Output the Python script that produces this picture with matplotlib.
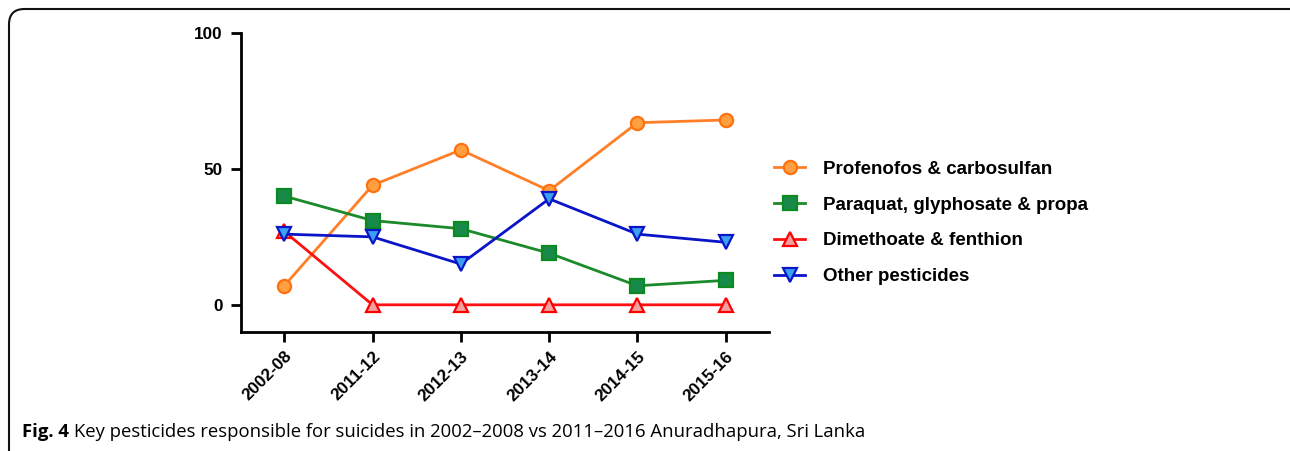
import matplotlib
matplotlib.use("Agg")
import matplotlib.pyplot as plt
from matplotlib.patches import FancyBboxPatch

periods = ["2002-08", "2011-12", "2012-13", "2013-14", "2014-15", "2015-16"]
profenofos = [7, 44, 57, 42, 67, 68]
paraquat = [40, 31, 28, 19, 7, 9]
dimethoate = [27, 0, 0, 0, 0, 0]
other = [26, 25, 15, 39, 26, 23]

series_labels = [
    "Profenofos & carbosulfan",
    "Paraquat, glyphosate & propa",
    "Dimethoate & fenthion",
    "Other pesticides",
]

W, H = 1290, 451
plt.rcParams["font.family"] = ["Liberation Sans", "DejaVu Sans"]

fig = plt.figure(figsize=(W / 100, H / 100), dpi=100)
ax = fig.add_axes([241 / W, 1 - 332 / H, (769 - 241) / W, (332 - 33) / H])

styles = [
    dict(color="#ff7f27", marker="o", mfc="#ffa040", mec="#ff7010"),
    dict(color="#1b8a2a", marker="s", mfc="#178a4a", mec="#0a8a20"),
    dict(color="#ff1010", marker="^", mfc="#f5a0a0", mec="#ff0000"),
    dict(color="#0a14c8", marker="v", mfc="#3aa0f0", mec="#0a14c8"),
]
xs = list(range(len(periods)))
for vals, label, st in zip([profenofos, paraquat, dimethoate, other], series_labels, styles):
    ax.plot(xs, vals, color=st["color"], lw=2.0, marker=st["marker"],
            markersize=9.5, markerfacecolor=st["mfc"], markeredgecolor=st["mec"],
            markeredgewidth=1.6, label=label)

ax.set_xlim(-0.49, 5.49)
ax.set_ylim(-10, 100)
ax.set_yticks([0, 50, 100])
ax.set_xticks(xs)
ax.set_xticklabels(periods, rotation=45, ha="right", rotation_mode="anchor")
for lab in ax.get_xticklabels() + ax.get_yticklabels():
    lab.set_fontweight("bold")
    lab.set_fontsize(12.3)
for side in ["top", "right"]:
    ax.spines[side].set_visible(False)
for side in ["left", "bottom"]:
    ax.spines[side].set_linewidth(2.0)
ax.tick_params(axis="both", width=2.0, length=7, direction="out")
ax.tick_params(axis="y", pad=6)
ax.tick_params(axis="x", pad=5)

fig.legend(loc="center left", bbox_to_anchor=(765 / W, 1 - 223 / H),
           frameon=False, borderpad=0, handlelength=1.65, handletextpad=0.96,
           labelspacing=0.99, prop={"weight": "bold", "size": 13.5})

# caption
cap_y = 1 - 437 / H
cap1 = fig.text(22 / W, cap_y, "Fig. 4", fontsize=13.3, fontweight="bold",
                family="Open Sans", va="baseline")
fig.canvas.draw()
bb = cap1.get_window_extent()
fig.text((bb.x1 + 5) / W, cap_y,
         "Key pesticides responsible for suicides in 2002\u20132008 vs 2011\u20132016 Anuradhapura, Sri Lanka",
         fontsize=13.3, family="Open Sans", va="baseline")

# rounded border (only top and left visible)
frame = FancyBboxPatch((9 / W, -20 / H), (W + 20) / W, (H - 9 + 20) / H,
                       boxstyle="round,pad=0,rounding_size=0.012",
                       transform=fig.transFigure, fill=False, lw=1.5,
                       edgecolor="#111111", mutation_aspect=W / H)
fig.add_artist(frame)

fig.savefig("out.png", dpi=100)
